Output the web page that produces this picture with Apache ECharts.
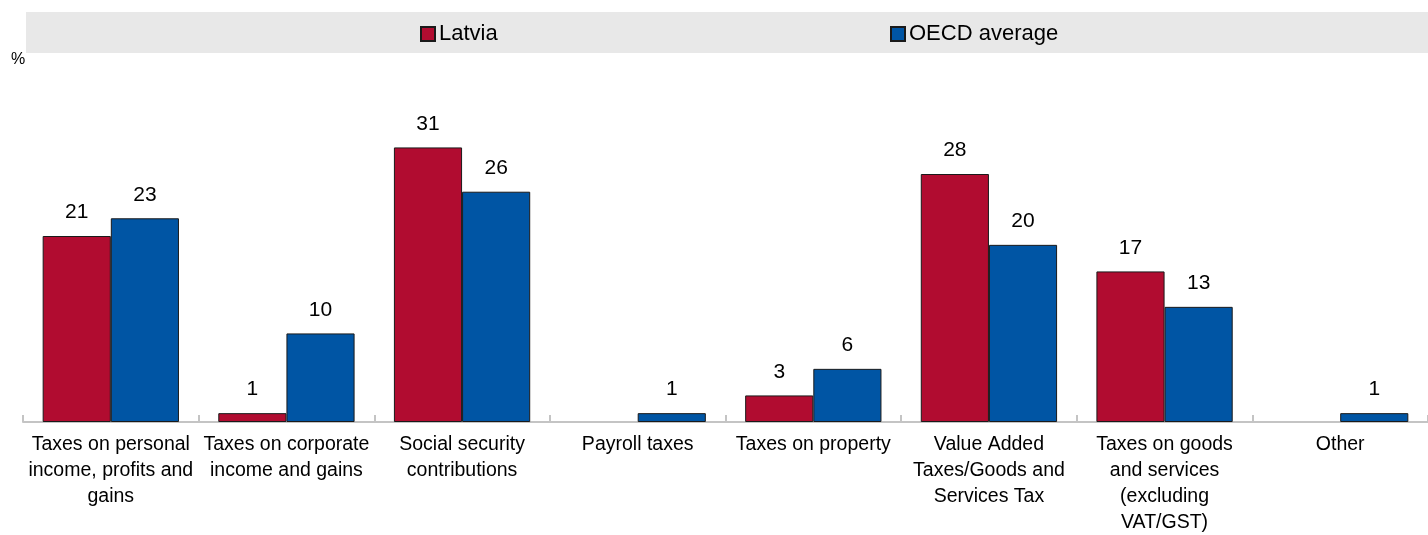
<!DOCTYPE html>
<html>
<head>
<meta charset="utf-8">
<title>Tax structure: Latvia vs OECD average</title>
<script src="https://cdn.jsdelivr.net/npm/echarts@6/dist/echarts.min.js"></script>
<style>
  html, body { margin: 0; padding: 0; background: #ffffff; }
  #chart { width: 1428px; height: 535px; }
</style>
</head>
<body>
<div id="chart"></div>
<script>
// Tax categories (multi-line labels under the axis)
const categories = [
  'Taxes on personal\nincome, profits and\ngains',
  'Taxes on corporate\nincome and gains',
  'Social security\ncontributions',
  'Payroll taxes',
  'Taxes on property',
  'Value Added\nTaxes/Goods and\nServices Tax',
  'Taxes on goods\nand services\n(excluding\nVAT/GST)',
  'Other'
];

// Share of total tax revenue, %
const latvia = [21, 1, 31, null, 3, 28, 17, null];
const oecdAverage = [23, 10, 26, 1, 6, 20, 13, 1];

const seriesNames = ['Latvia', 'OECD average'];
const unitLabel = '%';

const FONT = "'Liberation Sans', Arial, sans-serif";
const RED = '#b10c30';
const BLUE = '#0055a4';

const chart = echarts.init(document.getElementById('chart'), null, { renderer: 'canvas' });

function barSeries(name, data, color) {
  return {
    name: name,
    type: 'bar',
    data: data,
    barGap: '0%',
    barCategoryGap: '22.4%',
    itemStyle: { color: color, borderColor: '#1a1a1a', borderWidth: 1 },
    label: {
      show: true,
      position: 'top',
      distance: 13,
      color: '#000000',
      fontFamily: FONT,
      fontSize: 21
    },
    emphasis: { disabled: true },
    animation: false
  };
}

function legendFor(name, left) {
  return {
    data: [name],
    left: left,
    top: 23,
    padding: 0,
    icon: 'rect',
    itemWidth: 14,
    itemHeight: 14,
    itemGap: 4,
    textStyle: { fontFamily: FONT, fontSize: 22, color: '#000000', padding: [0, 0, 0, -1] },
    selectedMode: false
  };
}

chart.setOption({
  backgroundColor: '#ffffff',
  animation: false,
  graphic: [
    {
      type: 'rect',
      z: -10,
      shape: { x: 26, y: 12, width: 1402, height: 41 },
      style: { fill: '#e8e8e8' },
      silent: true
    },
    {
      type: 'text',
      left: 11,
      top: 52,
      style: { text: unitLabel, font: '16px ' + FONT, fill: '#000000' },
      silent: true
    }
  ],
  legend: [
    legendFor(seriesNames[0], 420),
    legendFor(seriesNames[1], 890)
  ],
  grid: {
    left: 23, right: 0, top: 112, bottom: 113,
    containLabel: false,
    outerBoundsMode: 'none'
  },
  xAxis: {
    type: 'category',
    data: categories,
    axisLine: { show: true, lineStyle: { color: '#c4c4c4', width: 2 } },
    axisTick: { show: true, inside: true, length: 7, alignWithLabel: false, lineStyle: { color: '#c4c4c4', width: 2 } },
    axisLabel: {
      interval: 0,
      margin: 10,
      color: '#000000',
      fontFamily: FONT,
      fontSize: 19.5,
      lineHeight: 26,
      align: 'center'
    },
    splitLine: { show: false }
  },
  yAxis: {
    type: 'value',
    min: 0,
    max: 35,
    show: false,
    splitLine: { show: false }
  },
  series: [
    barSeries(seriesNames[0], latvia, RED),
    barSeries(seriesNames[1], oecdAverage, BLUE)
  ]
});
</script>
</body>
</html>
